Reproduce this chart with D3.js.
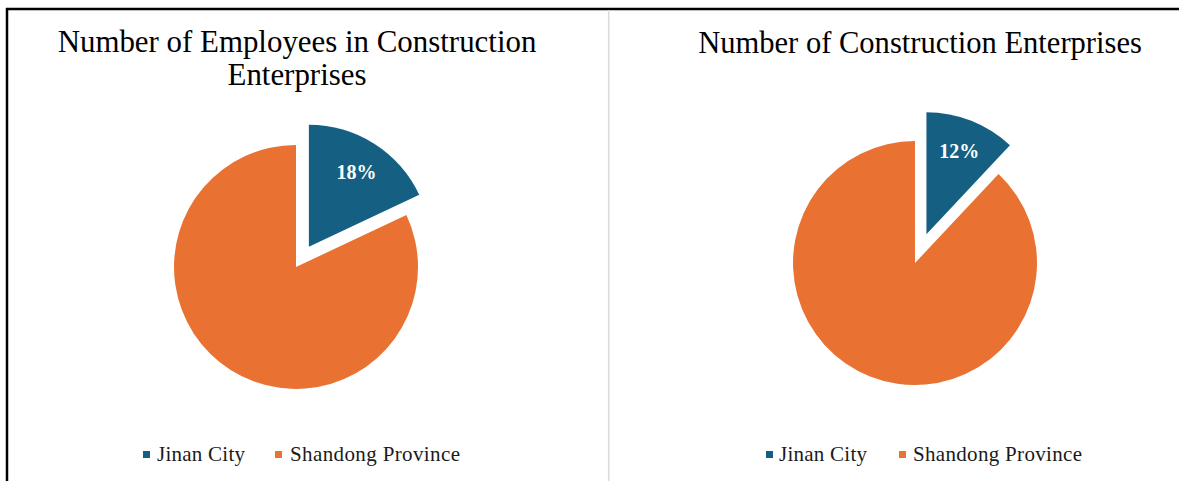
<!DOCTYPE html>
<html>
<head>
<meta charset="utf-8">
<script src="https://cdn.jsdelivr.net/npm/d3@7"></script>
<style>
  html, body { margin: 0; padding: 0; background: #fff; }
  svg { display: block; }
</style>
</head>
<body>
<svg id="chart" width="1179" height="481"></svg>
<script>
// Category names shared by both pies
const categories = ["Jinan City", "Shandong Province"];
// Shares (percent) of each category
const employeeShares = [18, 82];
const enterpriseShares = [12, 88];
// Chart titles (one entry per line)
const employeeTitle = ["Number of Employees in Construction", "Enterprises"];
const enterpriseTitle = ["Number of Construction Enterprises"];

const colors = ["#156082", "#E97132"];
const serif = "'Liberation Serif', 'Times New Roman', serif";

const svg = d3.select("#chart");

// Frame: heavy top and left rules, thin light divider between the two charts
svg.append("line").attr("x1", 6).attr("x2", 1179).attr("y1", 9).attr("y2", 9)
  .attr("stroke", "#000").attr("stroke-width", 2.5);
svg.append("line").attr("x1", 7).attr("x2", 7).attr("y1", 8).attr("y2", 481)
  .attr("stroke", "#000").attr("stroke-width", 2.5);
svg.append("line").attr("x1", 608.7).attr("x2", 608.7).attr("y1", 10).attr("y2", 481)
  .attr("stroke", "#dcdcdc").attr("stroke-width", 1.6);

const panels = [
  {
    title: employeeTitle, values: employeeShares,
    titleX: 297, titleY: [52, 85], titleWidth: 479,
    cx: 296, cy: 267, r: 122, explode: 24,
    legend: { blueX: 143, jinanX: 157, jinanW: 88, orangeX: 275, shandongX: 290, shandongW: 170 }
  },
  {
    title: enterpriseTitle, values: enterpriseShares,
    titleX: 920, titleY: [53], titleWidth: 444,
    cx: 915, cy: 263, r: 122, explode: 31,
    legend: { blueX: 766, jinanX: 779, jinanW: 88, orangeX: 899, shandongX: 913, shandongW: 169 }
  }
];

panels.forEach(p => {
  const g = svg.append("g");

  // Title lines, sized so the longest line spans the measured width
  const tl = g.selectAll("text.title").data(p.title).join("text")
    .attr("class", "title")
    .attr("x", p.titleX)
    .attr("y", (d, i) => p.titleY[i])
    .attr("text-anchor", "middle")
    .attr("font-family", serif)
    .attr("font-size", 26)
    .attr("fill", "#000")
    .text(d => d);
  const w0 = tl.node().getComputedTextLength();
  tl.attr("font-size", 26 * p.titleWidth / w0);

  // Pie, starting at 12 o'clock and running clockwise
  const pie = d3.pie().sort(null).value(d => d);
  const arcs = pie(p.values);
  const arc = d3.arc().innerRadius(0).outerRadius(p.r);
  const labelArc = d3.arc().innerRadius(p.r * 0.73).outerRadius(p.r * 0.73);

  const total = d3.sum(p.values);
  const pieG = g.append("g").attr("transform", `translate(${p.cx},${p.cy})`);

  arcs.forEach((a, i) => {
    const mid = (a.startAngle + a.endAngle) / 2;
    const off = i === 0 ? p.explode : 0;
    const dx = Math.sin(mid) * off, dy = -Math.cos(mid) * off;
    const sg = pieG.append("g").attr("transform", `translate(${dx},${dy})`);
    sg.append("path").attr("d", arc(a)).attr("fill", colors[i]);
    if (i === 0) {
      const [lx, ly] = labelArc.centroid(a);
      sg.append("text")
        .attr("x", lx).attr("y", ly)
        .attr("dy", "0.35em")
        .attr("text-anchor", "middle")
        .attr("font-family", serif)
        .attr("font-weight", "bold")
        .attr("font-size", 20)
        .attr("fill", "#fff")
        .text(Math.round(a.data / total * 100) + "%");
    }
  });

  // Legend
  const L = p.legend;
  const ly = 461;
  const items = [
    { x: L.blueX, tx: L.jinanX, tw: L.jinanW, c: colors[0], name: categories[0] },
    { x: L.orangeX, tx: L.shandongX, tw: L.shandongW, c: colors[1], name: categories[1] }
  ];
  items.forEach(it => {
    g.append("rect").attr("x", it.x).attr("y", ly - 10).attr("width", 7).attr("height", 7)
      .attr("fill", it.c);
    g.append("text")
      .attr("x", it.tx).attr("y", ly)
      .attr("font-family", serif)
      .attr("font-size", 21)
      .attr("fill", "#1a1a1a")
      .attr("textLength", it.tw)
      .attr("lengthAdjust", "spacing")
      .text(it.name);
  });
});
</script>
</body>
</html>
